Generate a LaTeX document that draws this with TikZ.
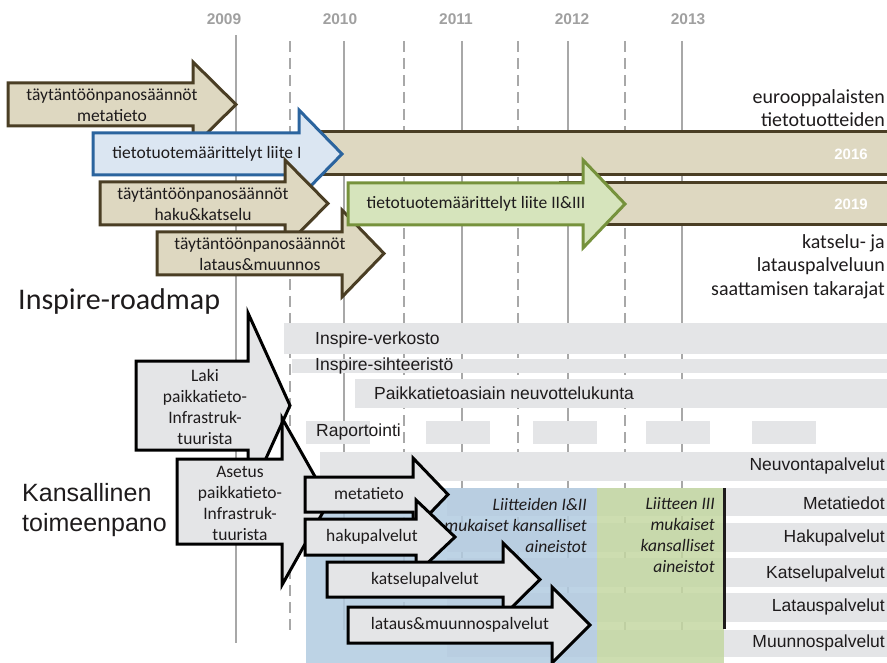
\documentclass[tikz,border=0pt]{standalone}
\usepackage{fontspec}
\setmainfont{Carlito}
\newfontfamily\arialfont{Liberation Sans}

\definecolor{ink}{RGB}{30,27,28}
\definecolor{tanfill}{RGB}{222,216,193}
\definecolor{tanline}{RGB}{74,62,36}
\definecolor{bluefill}{RGB}{219,230,242}
\definecolor{blueline}{RGB}{43,100,158}
\definecolor{greenfill}{RGB}{214,228,188}
\definecolor{greenline}{RGB}{118,146,60}
\definecolor{barfill}{RGB}{228,229,231}
\definecolor{gridgray}{RGB}{168,168,168}
\definecolor{yeargray}{RGB}{160,160,160}
\definecolor{zoneblue}{RGB}{178,203,224}
\definecolor{zonegreen}{RGB}{196,215,162}

% body from #2 to #3, tip at #4, body top #5, bottom #6, head overhang #7
\newcommand{\blockarrow}[7]{%
  \draw[#1] (#2,#5) -- (#3,#5) -- (#3,#5-#7) -- (#4,{(#5+#6)/2})
    -- (#3,#6+#7) -- (#3,#6) -- (#2,#6) -- cycle;}

\begin{document}
\begin{tikzpicture}[x=1pt,y=-1pt,
  every node/.style={text=ink,inner sep=0pt},
  solid grid/.style={draw=gridgray,line width=2.8pt},
  dash grid/.style={draw=gridgray,line width=2.8pt,dash pattern=on 11pt off 6pt},
  yearlbl/.style={font=\arialfont\bfseries\fontsize{15.5}{18}\selectfont,text=yeargray},
  tanarrow/.style={fill=tanfill,draw=tanline,line width=3pt},
  bluearrow/.style={fill=bluefill,draw=blueline,line width=3pt},
  greenarrow/.style={fill=greenfill,draw=greenline,line width=3pt},
  grayarrow/.style={fill=barfill,draw=black,line width=3pt},
  bar/.style={fill=barfill},
  cal/.style={font=\fontsize{17.5}{21}\selectfont,align=center},
  calbig/.style={font=\fontsize{20}{23.5}\selectfont,align=right,anchor=east},
  arl/.style={font=\arialfont\fontsize{17.5}{21}\selectfont},
  whiteyear/.style={font=\arialfont\bfseries\fontsize{15}{18}\selectfont,text=white},
  annex/.style={font=\itshape\fontsize{17.5}{21}\selectfont,align=right,anchor=east}]

  \useasboundingbox (0,0) rectangle (887,663);

  \draw[solid grid] (236,35) -- (236,643);
  \foreach \gx in {344,462,568,682}
    \draw[solid grid] (\gx,41) -- (\gx,630);
  \foreach \gx in {290,404,518,625}
    \draw[dash grid] (\gx,41) -- (\gx,630);
  \foreach \yr/\yx in {2009/224,2010/340,2011/456,2012/572,2013/688}
    \node[yearlbl] (y\yr) at (\yx,19) {\yr};

  \fill[bar] (284,323) rectangle (887,354);
  \fill[bar] (292,359) rectangle (887,373);
  \fill[bar] (355,379) rectangle (887,408);
  \foreach \rx in {306,426,533,646,752}
    \fill[bar] (\rx,421) rectangle (\rx+64,444);
  \fill[bar] (320,452) rectangle (887,481);
  \foreach \ry/\rh in {488/28,523/29,558/29,593/29,630/27}
    \fill[bar] (447,\ry) rectangle (887,\ry+\rh);

  \node[arl,anchor=west] (verkosto) at (315,340) {Inspire-verkosto};
  \node[arl,anchor=west] (sihteeristo) at (315,366) {Inspire-sihteeristö};
  \node[arl,anchor=west] (neuvottelu) at (374,393) {Paikkatietoasiain neuvottelukunta};
  \node[arl,anchor=west] (raportointi) at (316,432) {Raportointi};
  \node[arl,anchor=east] (neuvonta) at (885,466) {Neuvontapalvelut};
  \node[arl,anchor=east] (metatiedot) at (885,503) {Metatiedot};
  \node[arl,anchor=east] (hakupalv) at (885,538) {Hakupalvelut};
  \node[arl,anchor=east] (katselupalv) at (885,574) {Katselupalvelut};
  \node[arl,anchor=east] (latauspalv) at (885,607) {Latauspalvelut};
  \node[arl,anchor=east] (muunnospalv) at (885,643) {Muunnospalvelut};

  \fill[zoneblue,opacity=0.85] (306,488) rectangle (597,663);
  \fill[zonegreen,opacity=0.85] (597,488) rectangle (724,663);
  \draw[ink,line width=3pt] (724,488) -- (724,629);
  \node[annex] (liitteet12) at (587,525) {Liitteiden I\&II\\mukaiset kansalliset\\aineistot};
  \node[annex] (liite3) at (715,535) {Liitteen III\\mukaiset\\kansalliset\\aineistot};

  \draw[tanarrow] (300,132) rectangle (900,175);
  \draw[tanarrow] (560,183) rectangle (900,225);
  \node[whiteyear] (v2016) at (851,154) {2016};
  \node[whiteyear] (v2019) at (851,204) {2019};

  \blockarrow{tanarrow}{8}{193}{236}{83}{126}{21}
  \node[cal] (irmeta) at (112,105.5) {täytäntöönpanosäännöt\\metatieto};
  \blockarrow{bluearrow}{93}{299}{342}{133}{175}{23}
  \node[cal] (liiteI) at (207,154) {tietotuotemäärittelyt liite I};
  \blockarrow{tanarrow}{100}{285}{328}{182}{225}{22}
  \node[cal] (irhaku) at (203,204) {täytäntöönpanosäännöt\\haku\&katselu};
  \blockarrow{tanarrow}{157}{342}{384}{232}{275}{22}
  \node[cal] (irlataus) at (260,254.5) {täytäntöönpanosäännöt\\lataus\&muunnos};
  \blockarrow{greenarrow}{348}{583}{625}{183}{225}{23}
  \node[cal] (liiteIII) at (476,204) {tietotuotemäärittelyt liite II\&III};

  \node[calbig] (eurtuot) at (885,108) {eurooppalaisten\\tietotuotteiden};
  \node[calbig] (takaraja) at (885,266.5) {katselu- ja\\latauspalveluun\\saattamisen takarajat};
  \node[font=\fontsize{30}{36}\selectfont,anchor=west] (roadmap) at (18,302) {Inspire-roadmap};
  \node[font=\arialfont\fontsize{25}{30}\selectfont,align=left,anchor=west] (kansallinen) at (22,510) {Kansallinen\\toimeenpano};

  \blockarrow{grayarrow}{136}{248}{290}{361}{450}{48}
  \node[cal] (laki) at (205,407) {Laki\\paikkatieto-\\Infrastruk-\\tuurista};
  \blockarrow{grayarrow}{177}{282}{329}{459}{544}{41}
  \node[cal] (asetus) at (240,503.5) {Asetus\\paikkatieto-\\Infrastruk-\\tuurista};

  \blockarrow{grayarrow}{305}{413}{448}{477}{512}{19}
  \node[cal] (smeta) at (369,494) {metatieto};
  \blockarrow{grayarrow}{305}{416}{455}{519}{555}{19}
  \node[cal] (shaku) at (372,537) {hakupalvelut};
  \blockarrow{grayarrow}{327}{503}{540}{562}{597}{19}
  \node[cal] (skatselu) at (425,580) {katselupalvelut};
  \blockarrow{grayarrow}{348}{552}{590}{607}{643}{20}
  \node[cal] (slataus) at (460,625) {lataus\&muunnospalvelut};
\end{tikzpicture}
\end{document}
